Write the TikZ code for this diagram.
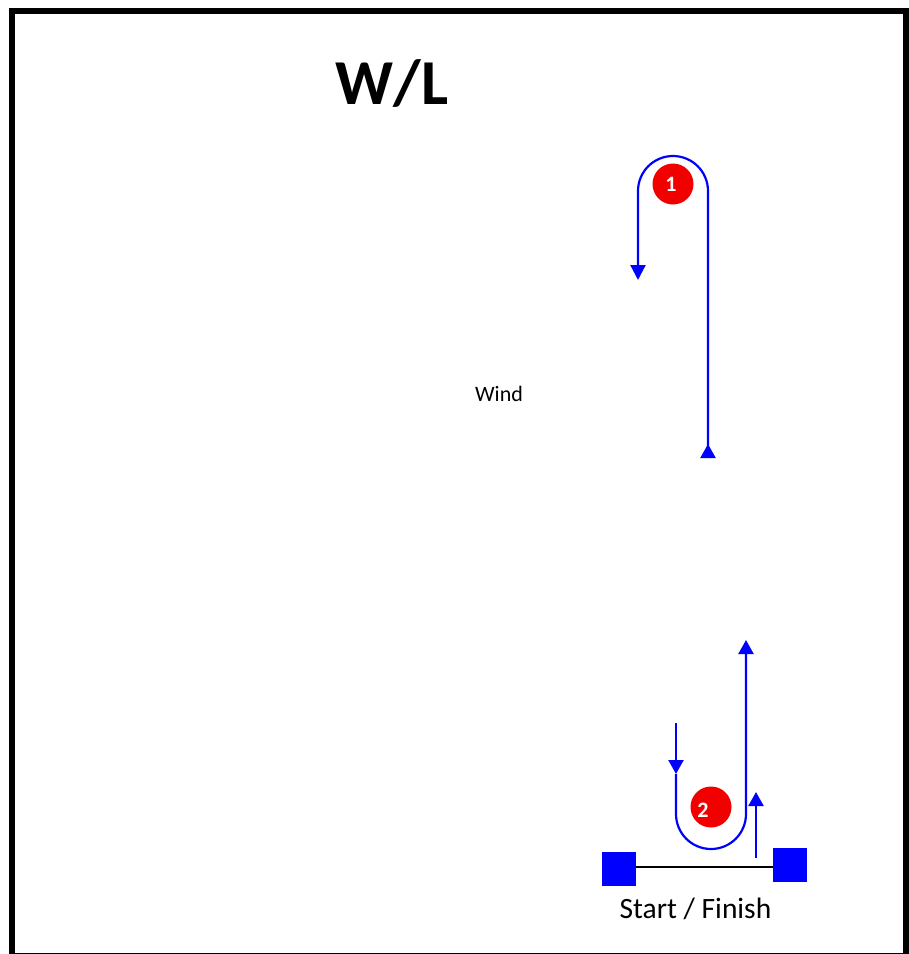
\documentclass[tikz,border=0pt]{standalone}
\usepackage{fontspec}
\setmainfont{Carlito}
\usetikzlibrary{arrows.meta}

\tikzset{
  route/.style={blue, line width=2.2pt},
  tip/.style={-{Triangle[length=14pt,width=15pt]}},
  buoy/.style={circle, fill=red!95!black, minimum size=41pt, inner sep=0pt},
  buoynum/.style={text=white, font=\bfseries\fontsize{22}{22}\selectfont},
  pin/.style={rectangle, fill=blue, minimum size=34pt, inner sep=0pt}
}

\begin{document}
\begin{tikzpicture}[x=1pt, y=-1pt]
        \useasboundingbox (0,0) rectangle (909,954);

        % Cerceve
        \draw[line width=6pt] (12,10.5) rectangle (906,956);

        % Basliklar
        \node[anchor=base, font=\fontsize{64}{64}\selectfont\bfseries] (title) at (392,104) {W/L};
        \node[anchor=base, font=\fontsize{22}{22}\selectfont] (wind) at (499,401) {Wind};
        \node[anchor=base, font=\fontsize{29.5}{30}\selectfont] (start) at (695.5,918) {Start / Finish};

        % Isaretler
        \node[buoy] (m1) at (673,184) {};
        \node[buoynum] (n1) at (671,184) {1};
        \node[buoy] (m2) at (711,807) {};
        \node[buoynum] (n2) at (703,810) {2};

        % Start / Finish hatti
        \node[pin] (pinL) at (619,869) {};
        \node[pin] (pinR) at (790,865) {};
        \draw[line width=2pt] (pinL.east |- 0,867) -- (pinR.west |- 0,867);

        % 1. ayak: yukari, isaret 1 etrafinda donus
        \coordinate (a0) at (708,458);
        \coordinate (a1) at (708,191);
        \coordinate (a2) at (638,280);
        \draw[route, {Triangle[reversed,length=14pt,width=15pt]}-{Triangle[length=15pt,width=15pt]}]
            (a0) -- (a1) arc (0:-180:35) -- (a2);

        % 2. ayak: asagi, isaret 2 etrafinda donus, yukari
        \coordinate (b0) at (676,723);
        \coordinate (b1) at (676,774);
        \coordinate (b2) at (676,814);
        \coordinate (b3) at (746,640);
        \draw[route, tip] (b0) -- (b1);
        \draw[route, tip] (b1) -- (b2) arc (180:0:35) -- (b3);

        % Cikis oku
        \coordinate (c0) at (756,858);
        \coordinate (c1) at (756,792);
        \draw[route, tip] (c0) -- (c1);
    \end{tikzpicture}
\end{document}
